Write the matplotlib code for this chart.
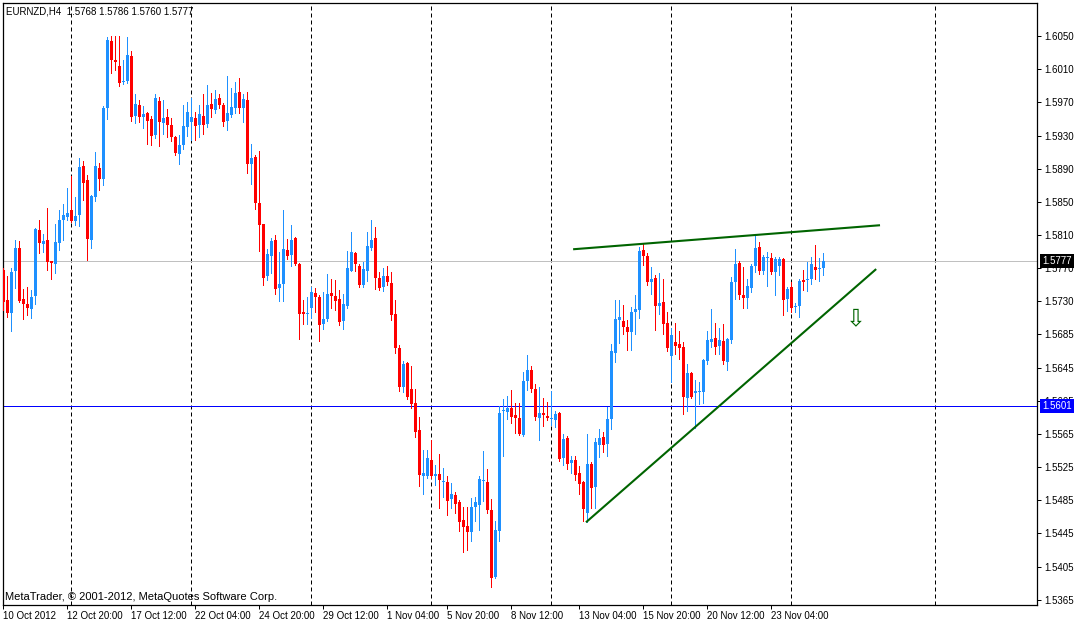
import numpy as np
import matplotlib
matplotlib.use("Agg")
import matplotlib.pyplot as plt
from matplotlib.transforms import blended_transform_factory

plt.rcParams['font.family'] = ['Liberation Sans', 'DejaVu Sans']

# EURNZD H4 candles
opens = [
    1.5766, 1.5729, 1.5714, 1.5765, 1.5792, 1.5730, 1.5725, 1.5718, 1.5734, 1.5814,
    1.5797, 1.5802, 1.5777, 1.5773, 1.5798, 1.5826, 1.5830, 1.5839, 1.5825, 1.5832,
    1.5892, 1.5875, 1.5802, 1.5855, 1.5890, 1.5876, 1.5963, 1.6044, 1.6021, 1.6014,
    1.5994, 1.5995, 1.6026, 1.5953, 1.5966, 1.5952, 1.5956, 1.5949, 1.5930, 1.5971,
    1.5944, 1.5952, 1.5942, 1.5927, 1.5907, 1.5918, 1.5939, 1.5945, 1.5950, 1.5942,
    1.5953, 1.5943, 1.5967, 1.5960, 1.5975, 1.5966, 1.5947, 1.5954, 1.5963, 1.5982,
    1.5963, 1.5972, 1.5894, 1.5903, 1.5847, 1.5821, 1.5758, 1.5783, 1.5802, 1.5744,
    1.5749, 1.5790, 1.5784, 1.5804, 1.5773, 1.5715, 1.5712, 1.5719, 1.5738, 1.5733,
    1.5700, 1.5706, 1.5738, 1.5734, 1.5730, 1.5704, 1.5722, 1.5765, 1.5786, 1.5771,
    1.5748, 1.5765, 1.5793, 1.5804, 1.5756, 1.5745, 1.5758, 1.5750, 1.5712, 1.5671,
    1.5624, 1.5653, 1.5621, 1.5604, 1.5571, 1.5515, 1.5516, 1.5535, 1.5516, 1.5518,
    1.5508, 1.5508, 1.5488, 1.5492, 1.5484, 1.5462, 1.5455, 1.5447, 1.5478, 1.5480,
    1.5509, 1.5508, 1.5474, 1.5393, 1.5449, 1.5594, 1.5593, 1.5598, 1.5590, 1.5586,
    1.5565, 1.5631, 1.5644, 1.5621, 1.5586, 1.5592, 1.5588, 1.5585, 1.5583, 1.5592,
    1.5537, 1.5562, 1.5531, 1.5535, 1.5519, 1.5508, 1.5471, 1.5530, 1.5502, 1.5553,
    1.5563, 1.5554, 1.5585, 1.5665, 1.5705, 1.5704, 1.5696, 1.5690, 1.5715, 1.5717,
    1.5790, 1.5783, 1.5751, 1.5756, 1.5722, 1.5727, 1.5701, 1.5661, 1.5678, 1.5676,
    1.5672, 1.5610, 1.5641, 1.5616, 1.5617, 1.5617, 1.5655, 1.5678, 1.5683, 1.5673,
    1.5680, 1.5654, 1.5681, 1.5751, 1.5774, 1.5735, 1.5732, 1.5744, 1.5771, 1.5794,
    1.5764, 1.5780, 1.5780, 1.5763, 1.5770, 1.5779, 1.5730, 1.5745, 1.5721, 1.5722,
    1.5754, 1.5754, 1.5755, 1.5769, 1.5767, 1.5768]
highs = [
    1.5768, 1.5758, 1.5768, 1.5802, 1.5801, 1.5743, 1.5745, 1.5741, 1.5817, 1.5826,
    1.5810, 1.5841, 1.5777, 1.5822, 1.5839, 1.5846, 1.5865, 1.5880, 1.5854, 1.5902,
    1.5898, 1.5881, 1.5857, 1.5909, 1.5896, 1.5965, 1.6049, 1.6050, 1.6050, 1.6050,
    1.6021, 1.6049, 1.6032, 1.5980, 1.5972, 1.5965, 1.5958, 1.5953, 1.5980, 1.5976,
    1.5972, 1.5961, 1.5950, 1.5929, 1.5930, 1.5966, 1.5970, 1.5975, 1.5958, 1.5966,
    1.5980, 1.5990, 1.5981, 1.5985, 1.5980, 1.5969, 1.6002, 1.5987, 1.5994, 1.5999,
    1.5979, 1.5982, 1.5919, 1.5906, 1.5910, 1.5822, 1.5791, 1.5804, 1.5808, 1.5787,
    1.5838, 1.5803, 1.5820, 1.5806, 1.5774, 1.5729, 1.5733, 1.5745, 1.5744, 1.5735,
    1.5739, 1.5761, 1.5755, 1.5753, 1.5741, 1.5737, 1.5789, 1.5812, 1.5788, 1.5773,
    1.5775, 1.5812, 1.5827, 1.5818, 1.5763, 1.5768, 1.5771, 1.5763, 1.5729, 1.5675,
    1.5655, 1.5654, 1.5649, 1.5621, 1.5587, 1.5547, 1.5547, 1.5559, 1.5529, 1.5542,
    1.5525, 1.5516, 1.5507, 1.5496, 1.5486, 1.5478, 1.5478, 1.5489, 1.5490, 1.5515,
    1.5546, 1.5524, 1.5487, 1.5461, 1.5600, 1.5609, 1.5613, 1.5620, 1.5604, 1.5604,
    1.5642, 1.5662, 1.5649, 1.5627, 1.5623, 1.5610, 1.5605, 1.5619, 1.5594, 1.5593,
    1.5566, 1.5564, 1.5540, 1.5540, 1.5528, 1.5509, 1.5566, 1.5532, 1.5562, 1.5573,
    1.5569, 1.5599, 1.5676, 1.5729, 1.5729, 1.5723, 1.5705, 1.5721, 1.5735, 1.5794,
    1.5798, 1.5786, 1.5769, 1.5760, 1.5762, 1.5755, 1.5715, 1.5695, 1.5701, 1.5692,
    1.5678, 1.5652, 1.5642, 1.5632, 1.5630, 1.5658, 1.5692, 1.5718, 1.5701, 1.5695,
    1.5700, 1.5683, 1.5757, 1.5791, 1.5777, 1.5769, 1.5755, 1.5773, 1.5809, 1.5800,
    1.5784, 1.5788, 1.5786, 1.5781, 1.5781, 1.5780, 1.5745, 1.5751, 1.5726, 1.5755,
    1.5766, 1.5775, 1.5781, 1.5796, 1.5780, 1.5786]
lows = [
    1.5717, 1.5708, 1.5691, 1.5744, 1.5727, 1.5706, 1.5711, 1.5707, 1.5724, 1.5786,
    1.5787, 1.5766, 1.5755, 1.5762, 1.5790, 1.5802, 1.5827, 1.5824, 1.5820, 1.5819,
    1.5851, 1.5778, 1.5792, 1.5850, 1.5863, 1.5869, 1.5949, 1.6005, 1.6009, 1.5989,
    1.5992, 1.5993, 1.5947, 1.5944, 1.5945, 1.5938, 1.5919, 1.5918, 1.5926, 1.5916,
    1.5931, 1.5927, 1.5922, 1.5905, 1.5894, 1.5913, 1.5929, 1.5924, 1.5924, 1.5927,
    1.5931, 1.5939, 1.5952, 1.5957, 1.5963, 1.5941, 1.5936, 1.5952, 1.5957, 1.5956,
    1.5946, 1.5883, 1.5870, 1.5840, 1.5789, 1.5747, 1.5753, 1.5762, 1.5736, 1.5728,
    1.5728, 1.5779, 1.5770, 1.5772, 1.5682, 1.5700, 1.5700, 1.5707, 1.5715, 1.5679,
    1.5694, 1.5704, 1.5719, 1.5717, 1.5699, 1.5694, 1.5720, 1.5764, 1.5765, 1.5745,
    1.5745, 1.5752, 1.5790, 1.5743, 1.5741, 1.5740, 1.5748, 1.5705, 1.5665, 1.5619,
    1.5618, 1.5609, 1.5598, 1.5563, 1.5503, 1.5494, 1.5513, 1.5513, 1.5504, 1.5477,
    1.5490, 1.5468, 1.5477, 1.5470, 1.5449, 1.5423, 1.5425, 1.5437, 1.5461, 1.5450,
    1.5485, 1.5470, 1.5380, 1.5392, 1.5437, 1.5540, 1.5585, 1.5580, 1.5568, 1.5565,
    1.5564, 1.5620, 1.5617, 1.5583, 1.5559, 1.5576, 1.5583, 1.5577, 1.5575, 1.5534,
    1.5529, 1.5524, 1.5519, 1.5511, 1.5494, 1.5461, 1.5459, 1.5477, 1.5477, 1.5539,
    1.5545, 1.5540, 1.5572, 1.5654, 1.5677, 1.5688, 1.5668, 1.5668, 1.5688, 1.5707,
    1.5772, 1.5747, 1.5737, 1.5693, 1.5712, 1.5688, 1.5667, 1.5630, 1.5664, 1.5658,
    1.5591, 1.5595, 1.5610, 1.5574, 1.5603, 1.5604, 1.5651, 1.5672, 1.5664, 1.5664,
    1.5652, 1.5644, 1.5677, 1.5730, 1.5730, 1.5720, 1.5720, 1.5739, 1.5763, 1.5761,
    1.5761, 1.5746, 1.5761, 1.5735, 1.5760, 1.5711, 1.5716, 1.5715, 1.5715, 1.5708,
    1.5741, 1.5740, 1.5749, 1.5755, 1.5752, 1.5760]
closes = [
    1.5727, 1.5713, 1.5763, 1.5792, 1.5728, 1.5724, 1.5719, 1.5733, 1.5816, 1.5798,
    1.5801, 1.5775, 1.5774, 1.5800, 1.5826, 1.5833, 1.5835, 1.5825, 1.5831, 1.5891,
    1.5871, 1.5803, 1.5856, 1.5892, 1.5876, 1.5963, 1.6045, 1.6021, 1.6018, 1.5993,
    1.5995, 1.6027, 1.5952, 1.5967, 1.5952, 1.5955, 1.5947, 1.5929, 1.5975, 1.5945,
    1.5950, 1.5942, 1.5927, 1.5908, 1.5918, 1.5941, 1.5958, 1.5952, 1.5941, 1.5955,
    1.5942, 1.5966, 1.5961, 1.5974, 1.5966, 1.5946, 1.5957, 1.5964, 1.5981, 1.5962,
    1.5974, 1.5894, 1.5902, 1.5847, 1.5820, 1.5756, 1.5785, 1.5801, 1.5743, 1.5749,
    1.5791, 1.5783, 1.5802, 1.5773, 1.5712, 1.5712, 1.5713, 1.5739, 1.5733, 1.5699,
    1.5706, 1.5737, 1.5734, 1.5728, 1.5703, 1.5724, 1.5768, 1.5787, 1.5773, 1.5747,
    1.5767, 1.5795, 1.5802, 1.5756, 1.5744, 1.5759, 1.5751, 1.5711, 1.5671, 1.5623,
    1.5651, 1.5612, 1.5603, 1.5569, 1.5517, 1.5519, 1.5537, 1.5516, 1.5518, 1.5510,
    1.5509, 1.5485, 1.5494, 1.5482, 1.5460, 1.5453, 1.5447, 1.5478, 1.5484, 1.5512,
    1.5511, 1.5474, 1.5392, 1.5450, 1.5592, 1.5596, 1.5598, 1.5587, 1.5586, 1.5566,
    1.5631, 1.5644, 1.5621, 1.5587, 1.5592, 1.5589, 1.5586, 1.5586, 1.5591, 1.5536,
    1.5560, 1.5530, 1.5535, 1.5517, 1.5506, 1.5475, 1.5530, 1.5501, 1.5557, 1.5562,
    1.5553, 1.5585, 1.5667, 1.5706, 1.5709, 1.5696, 1.5690, 1.5715, 1.5718, 1.5789,
    1.5783, 1.5751, 1.5755, 1.5722, 1.5726, 1.5700, 1.5671, 1.5687, 1.5673, 1.5671,
    1.5611, 1.5640, 1.5611, 1.5619, 1.5618, 1.5656, 1.5681, 1.5682, 1.5672, 1.5681,
    1.5655, 1.5682, 1.5751, 1.5773, 1.5735, 1.5732, 1.5746, 1.5771, 1.5792, 1.5764,
    1.5781, 1.5781, 1.5763, 1.5779, 1.5779, 1.5729, 1.5743, 1.5719, 1.5722, 1.5752,
    1.5751, 1.5755, 1.5773, 1.5766, 1.5768, 1.5777]

time_labels = ["10 Oct 2012", "12 Oct 20:00", "17 Oct 12:00", "22 Oct 04:00",
               "24 Oct 20:00", "29 Oct 12:00", "1 Nov 04:00", "5 Nov 20:00",
               "8 Nov 12:00", "13 Nov 04:00", "15 Nov 20:00", "20 Nov 12:00",
               "23 Nov 04:00"]
time_label_bars = [0, 16, 32, 48, 64, 80, 96, 111, 127, 144, 160, 176, 192]
week_starts = [17, 47, 77, 107, 137, 167, 197, 232.9]

price_labels = ["1.5365", "1.5405", "1.5445", "1.5485", "1.5525", "1.5565",
                "1.5605", "1.5645", "1.5685", "1.5730", "1.5770", "1.5810",
                "1.5850", "1.5890", "1.5930", "1.5970", "1.6010", "1.6050"]

bid = 1.5777
level = 1.5601
# trendlines: (bar, price) pairs
upper_line = ([142.7, 218.9], [1.5791, 1.5820])
lower_line = ([145.85, 218.0], [1.5460, 1.5766])
arrow_pos = (213.0, 1.5707)

o = np.array(opens)
h = np.array(highs)
l = np.array(lows)
c = np.array(closes)
x = np.arange(len(o))

fig = plt.figure(figsize=(10.75, 6.23), dpi=100)
ax = fig.add_axes([3/1075, 18/623, 1034/1075, 602/623])
ax.set_xlim(-0.075, 258.4)
ax.set_ylim(1.53587, 1.60901)

up = c >= o
cols = np.where(up, "#1E90FF", "#FF0000")

ax.vlines(x, l, h, colors=cols, lw=0.72, antialiased=False, zorder=3)
body_lo = np.minimum(o, c)
body_h = np.maximum(np.abs(c - o), 0.00012)
ax.bar(x, body_h, bottom=body_lo, width=0.75, color=cols, linewidth=0,
       antialiased=False, zorder=4)

for w in week_starts:
    ax.axvline(w, color="black", lw=0.72, linestyle=(0, (4, 3)), zorder=1)

ax.axhline(bid, color="#C0C0C0", lw=0.72, zorder=2)
ax.axhline(level, color="#0000FF", lw=0.72, zorder=2)

ax.plot(upper_line[0], upper_line[1], color="#006400", lw=1.5, zorder=5)
ax.plot(lower_line[0], lower_line[1], color="#006400", lw=1.5, zorder=5)
ax.text(arrow_pos[0], arrow_pos[1], "\u21e9", color="#006400", fontsize=17,
        ha="center", va="center", zorder=6, family="DejaVu Sans")

# axes
for s in ax.spines.values():
    s.set_color("black")
    s.set_linewidth(0.9)
ax.yaxis.tick_right()
ax.set_yticks(np.linspace(1.5365, 1.6050, len(price_labels)))
ax.set_yticklabels(price_labels)
ax.set_xticks(time_label_bars)
ax.set_xticklabels(time_labels, ha="left")
ax.tick_params(axis="both", direction="out", length=3, width=0.72,
               labelsize=7, pad=1.5, colors="black")
ax.tick_params(axis="y", pad=2)

tr = blended_transform_factory(ax.transAxes, ax.transData)
ax.text(1.0052, bid, "%.4f" % bid, transform=tr, color="white", fontsize=7,
        va="center", ha="left", clip_on=False, zorder=10,
        bbox=dict(facecolor="black", edgecolor="none", pad=1.5))
ax.text(1.0052, level, "%.4f" % level, transform=tr, color="white", fontsize=7,
        va="center", ha="left", clip_on=False, zorder=10,
        bbox=dict(facecolor="#0000FF", edgecolor="none", pad=1.5))

fig.text(6/1075, 1 - 11/623, "EURNZD,H4  %.4f %.4f %.4f %.4f" % (o[-1], h[-1], l[-1], c[-1]),
         fontsize=7, va="center", ha="left")
fig.text(5/1075, 1 - 597/623, "MetaTrader, \u00a9 2001-2012, MetaQuotes Software Corp.",
         fontsize=8, va="center", ha="left")

fig.savefig("out.png", dpi=100)
